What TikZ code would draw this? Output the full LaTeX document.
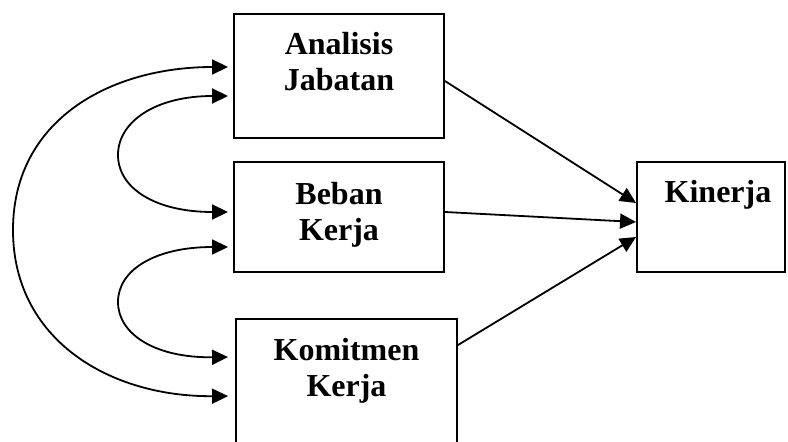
\documentclass[tikz,border=0pt]{standalone}
\usepackage{fontspec}
\setmainfont{Liberation Serif}
\usetikzlibrary{arrows.meta}

\begin{document}
\begin{tikzpicture}[x=1pt,y=-1pt,
  box/.style={draw, line width=1.9pt, rectangle, inner sep=0pt},
  lbl/.style={font=\bfseries\fontsize{32}{36}\selectfont, align=center, inner sep=0pt},
  tip/.tip={Triangle[length=16pt,width=15pt]},
  link/.style={line width=1.8pt, -tip},
  both/.style={line width=1.8pt, tip-tip}]
  \useasboundingbox (0,0) rectangle (788,442);
  \fill[white] (0,0) rectangle (788,442);
  \clip (0,0) rectangle (788,442);

  % variable boxes
  \node[box, minimum width=210pt, minimum height=124pt] (aj) at (339,76) {};
  \node[box, minimum width=210pt, minimum height=110pt] (bk) at (339,217) {};
  \node[box, minimum width=221pt, minimum height=150pt] (kk) at (346.5,394) {};
  \node[box, minimum width=148pt, minimum height=110pt] (kin) at (711,217) {};

  % box titles (base anchor = baseline of the last line)
  \node[lbl, anchor=base] (ajt) at (339,90) {Analisis\\Jabatan};
  \node[lbl, anchor=base] (bkt) at (339,240) {Beban\\Kerja};
  \node[lbl, anchor=base] (kkt) at (346.5,396) {Komitmen\\Kerja};
  \node[lbl, anchor=base] (kint) at (718,202) {Kinerja};

  % paths into Kinerja
  \draw[link] ([yshift=-5pt]aj.east) -- ([yshift=14pt]kin.west);
  \draw[link] ([yshift=5pt]bk.east) -- ([yshift=-5pt]kin.west);
  \draw[link] ([yshift=-27pt]kk.north east) -- ([yshift=-20pt]kin.west);

  % correlations between the predictors
  \coordinate (a1) at ([xshift=-5pt,yshift=9pt]aj.west);
  \coordinate (a2) at ([xshift=-5pt,yshift=-20pt]aj.west);
  \coordinate (b1) at ([xshift=-5pt,yshift=5pt]bk.west);
  \coordinate (b2) at ([xshift=-5pt,yshift=-30pt]bk.west);
  \coordinate (k1) at ([xshift=-7pt,yshift=-39pt]kk.north west);
  \coordinate (k2) at ([xshift=-7pt,yshift=-78pt]kk.north west);

  \draw[both]
    (a2) .. controls (155,96) and (118,122) .. (118,155)
         .. controls (118,188) and (155,212) .. (b1);
  \draw[both]
    (b2) .. controls (155,247) and (118,270) .. (118,302)
         .. controls (118,334) and (155,358) .. (k1);
  \draw[both]
    (a1) .. controls (110,67) and (13,120) .. (13,230)
         .. controls (13,340) and (110,397) .. (k2);
\end{tikzpicture}
\end{document}
